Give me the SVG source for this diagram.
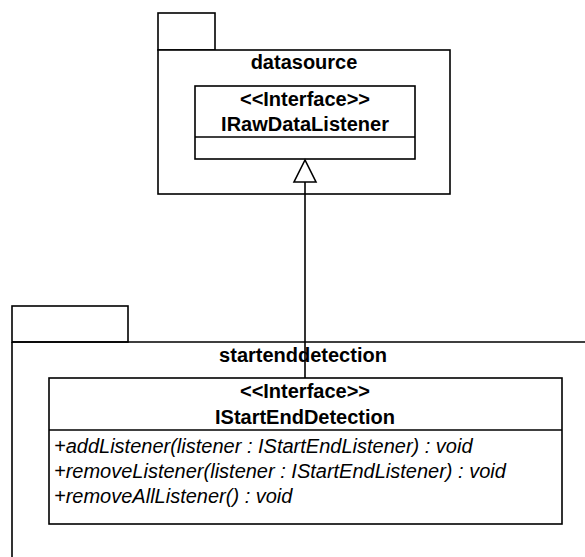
<svg xmlns="http://www.w3.org/2000/svg" width="585" height="557" viewBox="0 0 585 557">
<defs>
<style>
.box{fill:#fff;stroke:#000;stroke-width:1.6}
.t{font-family:"Liberation Sans",Arial,sans-serif;font-size:20px;fill:#000}
.b{font-weight:bold;text-anchor:middle}
.i{font-style:italic}
.ln{fill:none;stroke:#000;stroke-width:1.6}
</style>
</defs>
<rect width="585" height="557" fill="#fff"/>
<g id="pkg-datasource">
<rect class="box" x="158" y="13" width="57" height="37"/>
<rect class="box" x="158" y="50" width="292" height="144"/>
<text class="t b" x="304" y="69">datasource</text>
</g>
<g id="pkg-startenddetection">
<rect class="box" x="12" y="306" width="116" height="36"/>
<path class="ln" d="M12 342 H586 M12 342 V558"/>
<text class="t b" x="303" y="362">startenddetection</text>
</g>
<g id="IRawDataListener">
<rect class="box" x="195" y="86" width="220" height="73"/>
<line class="ln" x1="195" y1="137" x2="415" y2="137"/>
<text class="t b" x="305" y="106">&lt;&lt;Interface&gt;&gt;</text>
<text class="t b" x="305" y="131">IRawDataListener</text>
</g>
<g id="connectors">
<line class="ln" x1="305" y1="182" x2="305" y2="378"/>
<polygon points="305,160 294,182 316,182" fill="#fff" stroke="#000" stroke-width="1.6"/>
</g>
<g id="IStartEndDetection">
<rect class="box" x="49" y="378" width="513" height="146"/>
<line class="ln" x1="49" y1="430" x2="562" y2="430"/>
<text class="t b" x="305" y="398">&lt;&lt;Interface&gt;&gt;</text>
<text class="t b" x="305" y="424">IStartEndDetection</text>
<text class="t i" x="54" y="453">+addListener(listener : IStartEndListener) : void</text>
<text class="t i" x="54" y="478">+removeListener(listener : IStartEndListener) : void</text>
<text class="t i" x="54" y="503">+removeAllListener() : void</text>
</g>
</svg>
